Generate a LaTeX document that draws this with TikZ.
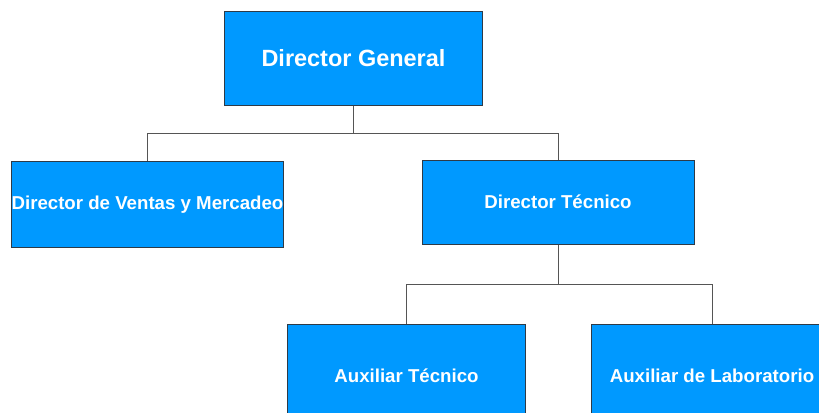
\documentclass[tikz,border=0pt]{standalone}
\usepackage{fontspec}
\setmainfont{Liberation Sans}
\usetikzlibrary{positioning}

\definecolor{cargo}{HTML}{0099FF}
\definecolor{borde}{HTML}{2E3A46}
\definecolor{linea}{HTML}{555555}

\tikzset{
  puesto/.style = {draw = borde, fill = cargo, text = white, font = \bfseries\fontsize{14}{16}\selectfont, line width = 0.75pt, inner sep = 0pt},
  enlace/.style = {draw = linea, line width = 0.75pt}
}

\begin{document}
\begin{tikzpicture} [x = 0.75pt, y = -0.75pt]
\useasboundingbox (0, 0) rectangle (819, 412);
\clip (0, 0) rectangle (819, 412);
\node[puesto, minimum width = 194pt, minimum height = 70.5pt, font = \bfseries\fontsize{17.6}{20}\selectfont] (dg) at (353.5, 58){Director General};
\node[puesto, minimum width = 203pt, minimum height = 64pt] (dvm) at (147.5, 204.5){Director de Ventas y Mercadeo};
\node[puesto, minimum width = 204pt, minimum height = 63pt] (dt) at (558, 202){Director Técnico};
\node[puesto, minimum width = 179pt, minimum height = 77pt] (at) at (406.5, 376){Auxiliar Técnico};
\node[puesto, minimum width = 181pt, minimum height = 77pt] (al) at (712, 376){Auxiliar de Laboratorio};
% lineas del organigrama
\draw[enlace] (dg.south) -- ++(0, 28) -| (dvm.north);
\draw[enlace] (dg.south) -- ++(0, 28) -| (dt.north);
\draw[enlace] (dt.south) -- ++(0, 40) -| (at.north);
\draw[enlace] (dt.south) -- ++(0, 40) -| (al.north);
\end{tikzpicture}
\end{document}
